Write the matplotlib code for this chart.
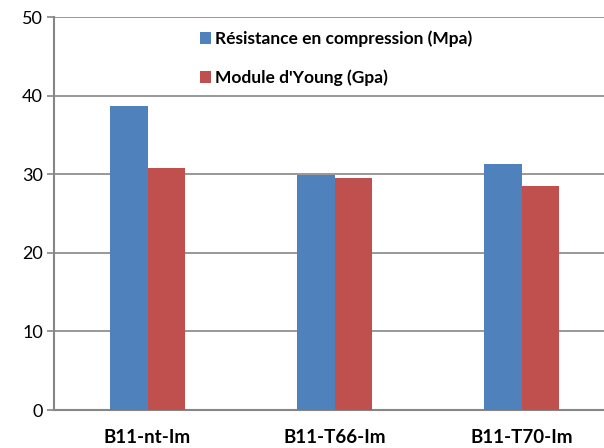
import matplotlib
matplotlib.use("Agg")
import matplotlib.pyplot as plt
import numpy as np
from matplotlib.patches import Patch

categories = ["B11-nt-Im", "B11-T66-Im", "B11-T70-Im"]
resistance = [38.7, 29.9, 31.3]
young = [30.8, 29.5, 28.5]
series_names = ["Résistance en compression (Mpa)", "Module d'Young (Gpa)"]
yticks = [0, 10, 20, 30, 40, 50]

blue = "#4F81BD"
red = "#C0504D"
grid = "#868686"
font = "Lato"

fig = plt.figure(figsize=(6.04, 4.48), dpi=100)
ax = fig.add_axes([54/604, 38/448, 561/604, 392.7/448])

x = np.arange(len(categories))
w = 0.2
ax.bar(x - w/2, resistance, w, color=blue, zorder=3)
ax.bar(x + w/2, young, w, color=red, zorder=3)

ax.set_xlim(-0.5, 2.5)
ax.set_ylim(0, 50)
ax.set_yticks(yticks)
ax.set_yticklabels([str(t) for t in yticks], fontsize=13, fontfamily=font)
ax.set_xticks(x)
ax.set_xticklabels(categories, fontsize=13.5, fontweight="bold", fontfamily=font)
ax.tick_params(axis="x", length=0, pad=14)
ax.tick_params(axis="y", length=5, color=grid, width=1.2, pad=3)
ax.yaxis.grid(True, color=grid, linewidth=1.2, zorder=0)
for s in ["top", "right"]:
    ax.spines[s].set_visible(False)
for s in ["left", "bottom"]:
    ax.spines[s].set_color(grid)
    ax.spines[s].set_linewidth(1.5)

handles = [Patch(facecolor=blue), Patch(facecolor=red)]
leg = fig.legend(handles, series_names, loc="upper left",
                 bbox_to_anchor=(184/604, 1 - 15/448),
                 frameon=False, handlelength=0.65, handleheight=0.65,
                 handletextpad=0.25, labelspacing=1.3,
                 prop={"family": font, "weight": "bold", "size": 12.5})

fig.savefig("out.png", dpi=100)
